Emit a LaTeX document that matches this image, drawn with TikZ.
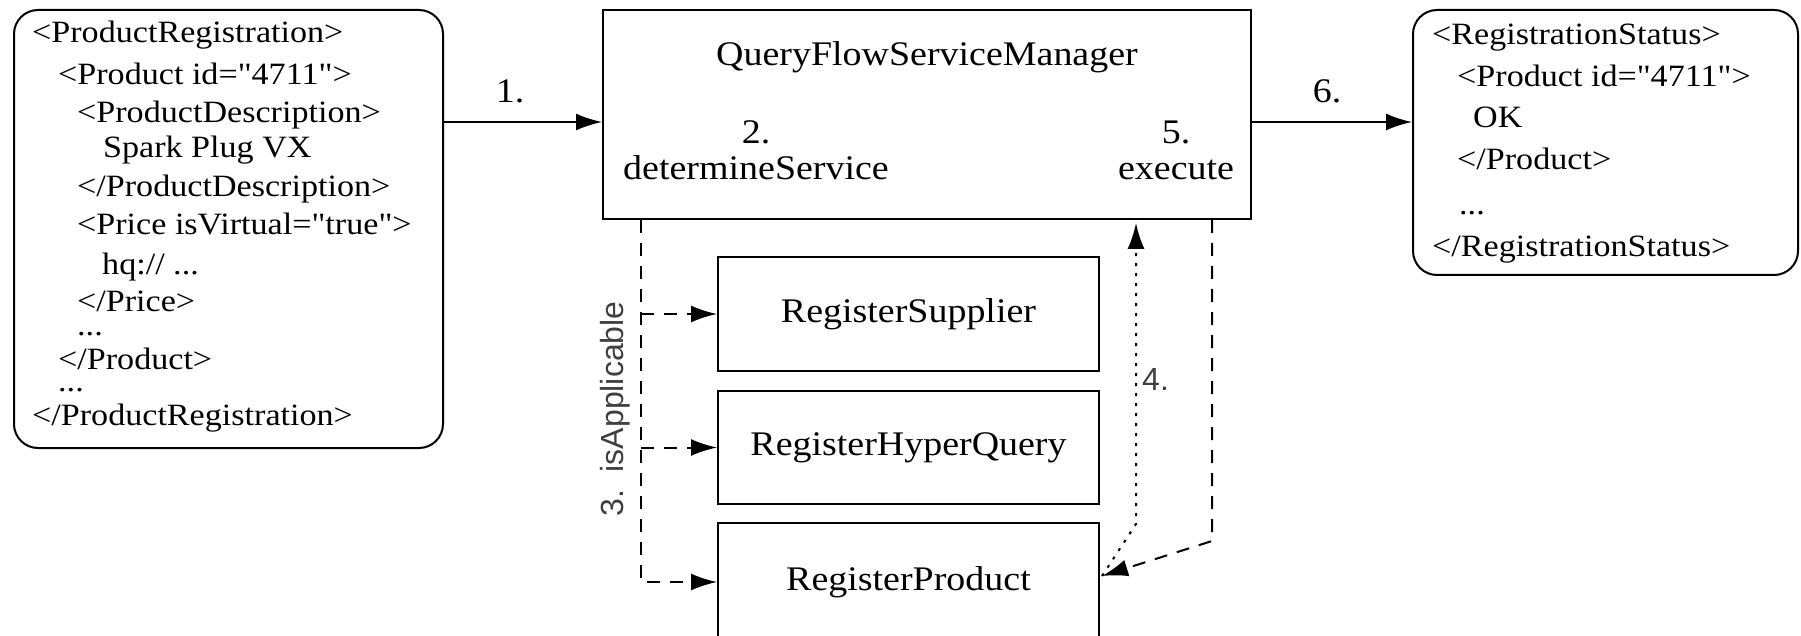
\documentclass[tikz,border=0pt]{standalone}
\usepackage{fontspec}
\setmainfont{Liberation Serif}[FakeStretch=1.1, Ligatures=TeXOff]
\newfontfamily\notesans{Liberation Sans}
\usetikzlibrary{arrows.meta,calc}
\tikzset{
  xmltext/.style={anchor=base west, inner sep=0pt, font=\fontsize{31}{38}\selectfont},
  lbl/.style={inner sep=0pt, font=\fontsize{34.5}{40}\selectfont},
  xmlbox/.style={draw, line width=2pt, rounded corners=24pt, inner sep=0pt},
  mgrbox/.style={draw, line width=2pt, inner sep=0pt},
  svcbox/.style={draw, line width=2pt, inner sep=0pt, minimum width=381pt,
    minimum height=114pt, font=\fontsize{34.5}{40}\selectfont},
  conn/.style={line width=2pt, -{Latex[length=26pt,width=17pt]}},
  dashconn/.style={conn, dash pattern=on 13pt off 10pt},
  dotconn/.style={conn, dash pattern=on 3pt off 7pt},
  note/.style={inner sep=0pt, text=black!75, font=\notesans\fontsize{32}{38}\selectfont},
}
\begin{document}
\begin{tikzpicture}[x=1pt,y=-1pt]
\useasboundingbox (0,0) rectangle (1801,636);
\clip (0,0) rectangle (1801,636);

% incoming registration document
\node[xmlbox, minimum width=429pt, minimum height=438pt] (req) at (228.5,229) {};
\node[xmltext] (q1)  at (32,43)  {<ProductRegistration>};
\node[xmltext] (q2)  at (58,85)  {<Product id="4711">};
\node[xmltext] (q3)  at (77,123) {<ProductDescription>};
\node[xmltext] (q4)  at (103,158) {Spark Plug VX};
\node[xmltext] (q5)  at (77,197) {</ProductDescription>};
\node[xmltext] (q6)  at (77,235) {<Price isVirtual="true">};
\node[xmltext] (q7)  at (102,275) {hq:// ...};
\node[xmltext] (q8)  at (77,312) {</Price>};
\node[xmltext] (q9)  at (77,335) {...};
\node[xmltext] (q10) at (58,369) {</Product>};
\node[xmltext] (q11) at (58,391) {...};
\node[xmltext] (q12) at (32,425) {</ProductRegistration>};

% service manager
\node[mgrbox, minimum width=648pt, minimum height=209pt] (qf) at (927,114.5) {};
\node[lbl, anchor=base] (qft) at (927,66)  {QueryFlowServiceManager};
\node[lbl, anchor=base] (ds2) at (756,144) {2.};
\node[lbl, anchor=base] (ds)  at (756,180) {determineService};
\node[lbl, anchor=base] (ex5) at (1176,144) {5.};
\node[lbl, anchor=base] (ex)  at (1176,180) {execute};

% candidate services
\node[svcbox] (rs) at (908.5,314) {RegisterSupplier};
\node[svcbox, minimum height=113pt] (rh) at (908.5,447.5) {RegisterHyperQuery};
\node[svcbox, minimum height=118pt] (rp) at (908.5,582) {RegisterProduct};

% returned status document
\node[xmlbox, minimum width=385pt, minimum height=265pt] (res) at (1605.5,142.5) {};
\node[xmltext] (s1) at (1432,45)  {<RegistrationStatus>};
\node[xmltext] (s2) at (1457,87)  {<Product id="4711">};
\node[xmltext] (s3) at (1473,128) {OK};
\node[xmltext] (s4) at (1457,170) {</Product>};
\node[xmltext] (s5) at (1459,215) {...};
\node[xmltext] (s6) at (1432,257) {</RegistrationStatus>};

% request and response
\draw[conn] ($(req.north east)+(0,113)$) -- ($(qf.north west)+(0,113)$);
\node[lbl, anchor=base] (n1) at (510,103) {1.};
\draw[conn] ($(qf.north east)+(0,113)$) -- ($(res.north west)+(0,113)$);
\node[lbl, anchor=base] (n6) at (1327,103) {6.};

% applicability checks
\coordinate (bus) at ($(qf.south west)+(39,0)$);
\draw[dashconn] (bus) |- (rp.west);
\draw[dashconn] (bus |- rs.west) -- (rs.west);
\draw[dashconn] (bus |- rh.west) -- (rh.west);
\node[note, rotate=90] (isa) at (615,409) {3.\ \ isApplicable};

% chosen service reports back, then is executed
\draw[dotconn] ($(rp.east)+(2,-6)$) -- ($(qf.south west)+(534,304)$) -- ($(qf.south west)+(534,3)$);
\node[note, anchor=base west] (n4) at (1142,390) {4.};
\draw[dashconn] ($(qf.south west)+(610,0)$) -- ($(qf.south west)+(610,321)$) -- ($(rp.east)+(2,-6)$);
\end{tikzpicture}
\end{document}
